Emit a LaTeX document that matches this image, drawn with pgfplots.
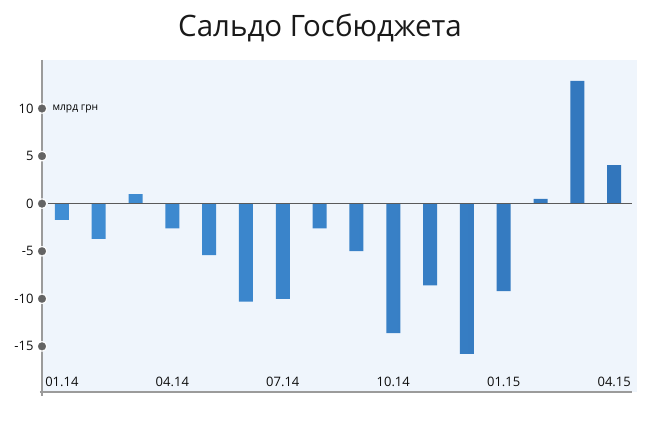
\documentclass[border=0pt]{standalone}
\usepackage{pgfplots}
\pgfplotsset{compat=1.18}
\usepackage{fontspec}
\setmainfont{Open Sans}
\definecolor{bgcol}{RGB}{239,245,252}
\definecolor{barL}{RGB}{64,142,212}
\definecolor{barM}{RGB}{72,150,220}
\definecolor{barR}{RGB}{50,118,188}
\definecolor{axgray}{RGB}{155,155,155}
\definecolor{dotgray}{RGB}{100,100,100}
\definecolor{zerogray}{RGB}{90,90,90}
\begin{document}
\begin{tikzpicture}[x=1pt,y=1pt]
\path[use as bounding box] (0,0) rectangle (650,432);
\node[font=\fontsize{29.5}{34}\selectfont, text=black!90] at (320,404) {Сальдо Госбюджета};
\begin{axis}[at={(42pt,40pt)}, anchor=south west, scale only axis,
 width=595pt, height=332pt,
 xmin=-0.54, xmax=15.62, ymin=-19.8, ymax=15.1,
 axis background/.style={fill=bgcol},
 axis line style={draw=none},
 bar width=14pt,
 xtick={0,3,6,9,12,15},
 xticklabels={01.14,04.14,07.14,10.14,01.15,04.15},
 ytick={-15,-10,-5,0,5,10},
 yticklabels={-15,-10,-5,0,5,10},
 major tick length=0pt,
 tick label style={font=\fontsize{13}{15}\selectfont, text=black!95},
 x tick label style={anchor=south, yshift=2pt},
 y tick label style={xshift=-5pt},
 clip=false,
]
\addplot[ybar, draw=none, left color=barL, middle color=barM, right color=barR] coordinates {
(0,-1.7) (1,-3.7) (2,1.0) (3,-2.6) (4,-5.4) (5,-10.3) (6,-10.0) (7,-2.6)
(8,-5.0) (9,-13.6) (10,-8.6) (11,-15.8) (12,-9.2) (13,0.5) (14,12.9) (15,4.05)
};
\draw[axgray, line width=1.3pt] (rel axis cs:0,1) -- ([yshift=-4pt]rel axis cs:0,0);
\draw[axgray, line width=1.3pt] ([xshift=-2pt]rel axis cs:0,0) -- (rel axis cs:0.9916,0);
\draw[zerogray, line width=1pt] ([xshift=6pt]axis cs:-0.54,0) -- (axis cs:15.48,0);
\addplot[white, only marks, mark=*, mark size=5.2pt, mark options={fill=white, draw=white, line width=0.2pt}] coordinates {
(-0.54,-15) (-0.54,-10) (-0.54,-5) (-0.54,0) (-0.54,5) (-0.54,10)
};
\addplot[dotgray, only marks, mark=*, mark size=3.9pt, mark options={fill=dotgray, draw=dotgray, line width=0.2pt}] coordinates {
(-0.54,-15) (-0.54,-10) (-0.54,-5) (-0.54,0) (-0.54,5) (-0.54,10)
};
\node[anchor=west, font=\fontsize{10.3}{11}\selectfont, text=black] at ([xshift=7pt]axis cs:-0.54,10) {млрд грн};
\end{axis}
\end{tikzpicture}
\end{document}
